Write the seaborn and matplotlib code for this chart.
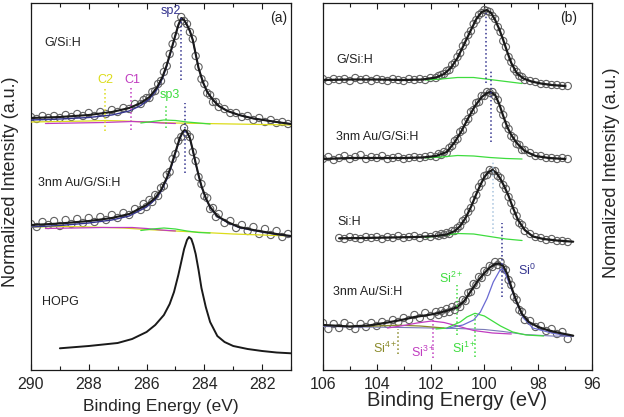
import matplotlib
matplotlib.use("Agg")
import matplotlib.pyplot as plt
from matplotlib.ticker import MultipleLocator
import seaborn as sns

sns.set_theme(style="ticks")
plt.rcParams['font.family'] = ['Liberation Sans', 'DejaVu Sans']
plt.rcParams['mathtext.default'] = 'regular'

# ---------------- data (intensities in arbitrary units, stacked) ----------------
# (a) C 1s : measured points
e_a_pts = [290.0, 289.8, 289.6, 289.4, 289.2, 289.0, 288.8, 288.6, 288.4, 288.2,
           288.0, 287.8, 287.6, 287.4, 287.2, 287.0, 286.8, 286.6, 286.4, 286.2,
           286.1, 286.0, 285.9, 285.8, 285.7, 285.6, 285.5, 285.4, 285.3, 285.2,
           285.1, 285.0, 284.9, 284.8, 284.7, 284.6, 284.5, 284.4, 284.3, 284.2,
           284.1, 284.0, 283.9, 283.8, 283.7, 283.6, 283.5,
           283.3, 283.1, 282.9, 282.7, 282.5, 282.3, 282.1, 281.9, 281.7, 281.5, 281.3, 281.1]
i_a_gsi_pts = [253, 251, 254, 252, 254, 252, 255, 253, 256, 254,
               257, 254, 258, 256, 260, 258, 262, 261, 266, 266,
               270, 272, 272, 278, 279, 286, 289, 298, 304, 316,
               326, 334, 346, 353, 349, 346, 338, 331, 314, 303,
               291, 286, 277, 275, 268, 268, 263,
               261, 257, 257, 253, 254, 250, 252, 248, 250, 247, 248, 246]
i_a_au_pts = [146, 143, 148, 145, 149, 144, 150, 146, 151, 147,
              152, 148, 153, 150, 155, 152, 157, 155, 161, 160,
              166, 163, 170, 168, 175, 174, 182, 184, 195, 198,
              211, 216, 229, 233, 242, 236, 233, 218, 209, 193,
              186, 174, 172, 161, 162, 153, 156,
              147, 149, 142, 145, 139, 143, 136, 141, 135, 139, 133, 136]

# (a) fitted envelopes
e_a_gsi_fit = [290, 289, 288, 287.2, 286.6, 286.2, 285.9, 285.65, 285.45, 285.3,
               285.15, 285.0, 284.9, 284.8, 284.7, 284.6, 284.5, 284.4, 284.3, 284.2,
               284.05, 283.9, 283.7, 283.5, 283.2, 282.8, 282.3, 281.5, 281.0]
i_a_gsi_fit = [252, 253, 255, 258, 262, 267, 273, 282, 293, 305,
               320, 335, 345, 352, 350, 345, 339, 330, 316, 302,
               288, 278, 270, 264, 259, 255, 251.5, 248, 246]
i_a_gsi_sp2 = [250, 251, 252.5, 255, 259, 264.5, 271, 280, 291.5, 304,
               319, 334.5, 344.5, 351.5, 350, 345, 339, 330, 316, 302,
               288, 278, 270, 264, 259, 255, 251.5, 248, 246]

e_a_au_fit = [290, 289, 288, 287.2, 286.6, 286.0, 285.7, 285.5, 285.3, 285.15,
              285.0, 284.85, 284.75, 284.68, 284.6, 284.5, 284.4, 284.3, 284.2, 284.1,
              283.95, 283.8, 283.55, 283.2, 282.8, 282.3, 281.5, 281.0]
i_a_au_fit = [145, 146.5, 149, 152, 156, 165, 172, 180, 192, 204,
              218, 232, 238, 240, 238, 232, 220, 207, 195, 184,
              172, 163, 154, 148, 143, 140, 136, 134]
i_a_au_sp2 = [143, 144.5, 147, 150, 154, 163, 170.5, 178.5, 190.5, 202.5,
              217, 231, 237.5, 239.5, 237.5, 231.5, 219.5, 206.5, 194.5, 183.5,
              171.5, 162.5, 153.5, 147.5, 142.5, 139.5, 135.5, 133.5]

e_hopg = [289.0, 288.0, 287.0, 286.5, 286.0, 285.7, 285.4, 285.2, 285.05, 284.9,
          284.8, 284.7, 284.6, 284.53, 284.45, 284.38, 284.3, 284.2, 284.1, 283.95,
          283.8, 283.55, 283.3, 283.0, 282.5, 282.0, 281.5, 281.0]
i_hopg = [21.7, 24, 27, 31, 38, 45, 55, 66, 78, 95,
          108, 121, 130, 133, 131, 125, 116, 100, 82, 63,
          48, 34, 28, 24, 21, 19, 17.5, 16.7]

# (a) small components: C2, C1, sp3
e_a_c2 = [290, 289, 288, 287.4, 286.8, 286, 285, 284, 283, 282, 281]
i_a_gsi_c2 = [248, 248.5, 249, 249.5, 249, 248, 247, 246.5, 246, 245.5, 245]
i_a_au_c2 = [143, 143.5, 143, 142.5, 142, 140.5, 139, 137.5, 136, 135, 134]
e_a_c1 = [289.5, 288.5, 287.5, 287, 286.5, 286, 285.5, 285]
i_a_gsi_c1 = [246.5, 247, 247.5, 248, 248.5, 248, 247, 246.5]
i_a_au_c1 = [141.5, 142, 142.5, 142.5, 142.5, 141.5, 140, 139]
e_a_sp3 = [286.2, 285.8, 285.4, 285.0, 284.6, 284.2, 283.8]
i_a_gsi_sp3 = [247, 248.5, 250, 249.5, 248, 247, 246]
i_a_au_sp3 = [139.5, 141, 142, 141, 139, 137.5, 137]

# (b) Si 2p : measured points
e_b_pts = [106.0, 105.8, 105.6, 105.4, 105.2, 105.0, 104.8, 104.6, 104.4, 104.2,
           104.0, 103.8, 103.6, 103.4, 103.2, 103.0, 102.8, 102.6, 102.4, 102.2,
           102.0, 101.8,
           101.7, 101.6, 101.5, 101.4, 101.3, 101.2, 101.1, 101.0, 100.9, 100.8,
           100.7, 100.6, 100.5, 100.4, 100.3, 100.2, 100.1, 100.0, 99.9, 99.8,
           99.7, 99.6, 99.5, 99.4, 99.3, 99.2, 99.1, 99.0, 98.9, 98.8,
           98.7, 98.6, 98.5,
           98.3, 98.1, 97.9, 97.7, 97.5, 97.3, 97.1, 96.9]
i_b_gsi_pts = [291, 289, 291, 290, 291, 289, 292, 290, 291, 289,
               291, 290, 289, 291, 290, 289, 291, 290, 291, 290,
               292, 292,
               294, 295, 296, 299, 300, 305, 307, 313, 317, 324,
               328, 335, 339, 346, 350, 355, 357, 360, 359, 358,
               354, 351, 343, 338, 329, 323, 313, 308, 301, 298,
               294, 293, 290,
               289, 288, 286, 286, 285, 285, 284, 284]
i_b_aug_pts = [211, 213, 210, 212, 214, 211, 213, 215, 211, 213,
               212, 214, 211, 212, 213, 211, 212, 213, 212, 213,
               214, 213,
               216, 215, 218, 217, 222, 224, 229, 231, 238, 240,
               248, 251, 258, 260, 267, 268, 274, 274, 278, 277,
               278, 274, 270, 261, 255, 245, 241, 234, 232, 226,
               225, 220, 220,
               217, 214, 214, 212, 212, 211, 212, 211]
i_b_sih_pts = [132, 131, 133, 132, 131, 133, 132, 133, 131, 133,
               132, 134, 132, 133, 134, 132, 134, 133, 135,
               134, 136, 135, 137, 136, 139, 139, 142, 144, 149,
               151, 158, 162, 170, 175, 183, 187, 194, 195, 200,
               199, 199, 194, 192, 185, 181, 173, 167, 159, 154,
               147, 145, 139,
               136, 133, 132, 130, 131, 129, 129, 128]
i_b_ausi_pts = [47, 41, 46, 42, 47, 44, 41, 46, 43, 47,
                44, 48, 46, 50, 48, 52, 50, 55, 52, 57,
                54, 58,
                55, 59, 57, 61, 58, 63, 60, 65, 63, 70,
                69, 77, 78, 86, 85, 93, 92, 99, 98, 104,
                103, 108, 105, 108, 102, 100, 90, 85, 73, 70,
                60, 58, 50,
                49, 43, 44, 39, 41, 36, 38, 31]

# (b) fitted envelopes
e_b_gsi_fit = [106, 105, 104, 103, 102.3, 101.8, 101.5, 101.25, 101.0, 100.75,
               100.5, 100.3, 100.1, 99.92, 99.75, 99.6, 99.45, 99.3, 99.15, 99.0,
               98.8, 98.55, 98.25, 97.9, 97.5, 97.0]
i_b_gsi_fit = [290, 290.5, 290.5, 290, 290.5, 292.5, 296, 302, 312, 326,
               340, 351, 358, 360, 357, 350, 341, 330, 318, 307,
               297, 291.5, 288.5, 286.5, 285, 284]
e_b_aug_fit = [106, 105, 104, 103, 102.3, 101.8, 101.4, 101.1, 100.85, 100.6,
               100.35, 100.1, 99.9, 99.77, 99.6, 99.45, 99.3, 99.15, 99.0, 98.8,
               98.5, 98.1, 97.6, 97.0]
i_b_aug_fit = [211, 212, 212, 212, 212.5, 214, 218, 228, 239, 252,
               264, 273, 277, 278, 275, 266, 254, 243, 235, 227,
               219, 214, 212, 211]
e_b_sih_fit = [105.4, 104.5, 103.5, 102.5, 101.8, 101.4, 101.1, 100.9, 100.7, 100.5,
               100.3, 100.15, 100.0, 99.85, 99.7, 99.55, 99.4, 99.25, 99.1, 98.95,
               98.75, 98.5, 98.2, 97.8, 97.3, 96.7]
i_b_sih_fit = [131.7, 132, 132.5, 133, 134, 135.5, 139, 144, 152, 163,
               176, 185, 193, 198, 200, 197, 191, 183, 174, 163,
               150, 140, 133.5, 131, 129.5, 128.3]
e_b_ausi_fit = [106.0, 105.0, 104.3, 103.6, 103.0, 102.6, 102.1, 101.7, 101.3, 101.0,
                100.75, 100.5, 100.25, 100.0, 99.8, 99.6, 99.45, 99.3, 99.15, 99.0,
                98.8, 98.6, 98.35, 98.0, 97.6, 97.2, 96.7]
i_b_ausi_fit = [45, 43.5, 44.5, 47.5, 50.5, 53, 55, 57, 60, 63,
                69, 79, 89, 97, 102.5, 106, 106.5, 104, 96, 83,
                68, 56, 48, 43, 39.5, 37, 34.3]

# (b) components
e_b_sub = [102.2, 101.6, 101.0, 100.4, 99.8, 99.2, 98.6]
i_b_gsi_sub = [290, 291, 292.5, 292.5, 290.5, 288.5, 286.5]
i_b_aug_sub = [212, 213, 214.5, 214, 212.5, 211.5, 211]
i_b_sih_sub = [132.5, 134.5, 136.5, 136, 133.5, 131, 129.5]
e_bg = [106, 103, 101, 100, 99.3, 98.5, 97.5, 96.7]
i_bg_ausi = [43.5, 42.5, 41.5, 40.5, 38.5, 35.5, 34, 33.5]
e_si0 = [101.4, 100.8, 100.4, 100.15, 99.9, 99.67, 99.42, 99.3, 99.05, 98.8, 98.55, 98.2, 97.45, 96.8]
i_si0 = [41.5, 45, 50, 58, 71.7, 88, 100, 101, 85, 67, 52, 42, 36.7, 34]
e_si1 = [101.8, 101.4, 100.9, 100.65, 100.35, 100.0, 99.7, 99.4, 98.95, 98.45, 97.8]
i_si1 = [41, 42, 48, 53, 56.7, 54, 49, 44, 38, 35, 34]
e_si3 = [103.6, 103.0, 102.5, 101.96, 101.5, 101.0, 100.4, 99.7, 99.0]
i_si3 = [42, 44.5, 47, 49, 47.5, 44, 39.5, 37, 36]
e_si4 = [105.0, 104.0, 103.2, 102.4, 101.5]
i_si4 = [43.5, 44, 44.8, 44, 42]

# peak position markers: energy, lower, upper
mk_a_e = [284.81, 284.68, 287.43, 286.53, 285.34]
mk_a_lo = [290, 197, 239, 240, 242]
mk_a_hi = [352, 267, 283, 283, 265]
mk_b_e = [99.94, 99.77, 99.67, 99.36, 101.03, 100.35, 101.90, 103.20]
mk_b_lo = [287, 228, 137, 73, 35, 13, 12, 16]
mk_b_hi = [357, 300, 210, 147, 85, 57, 52, 41]

NAVY = '#34348f'
YEL = '#dcdc1a'
MAG = '#c03cc0'
GRN = '#3edc3e'
OLV = '#8a8a2a'
LBLUE = '#a8c4de'

fig = plt.figure(figsize=(6.24, 4.17), dpi=100)
ax_a = fig.add_axes([31 / 624, 47 / 417, 260 / 624, 367 / 417])
ax_b = fig.add_axes([323 / 624, 47 / 417, 269 / 624, 367 / 417])


def line(ax, x, y, color, lw=1.0, z=3, ls='-'):
    sns.lineplot(x=x, y=y, ax=ax, color=color, lw=lw, estimator=None,
                 sort=False, zorder=z, linestyle=ls, legend=False)


def pts(ax, x, y):
    sns.scatterplot(x=x, y=y, ax=ax, s=27, marker='o', facecolor='none',
                    edgecolor='0.38', linewidth=0.8, zorder=2, legend=False)


# ---- panel (a) ----
pts(ax_a, e_a_pts, i_a_gsi_pts)
pts(ax_a, e_a_pts, i_a_au_pts)
for c2, c1, s3 in [(i_a_gsi_c2, i_a_gsi_c1, i_a_gsi_sp3), (i_a_au_c2, i_a_au_c1, i_a_au_sp3)]:
    line(ax_a, e_a_c2, c2, YEL, 0.9)
    line(ax_a, e_a_c1, c1, MAG, 0.9)
    line(ax_a, e_a_sp3, s3, GRN, 0.9)
line(ax_a, e_a_gsi_fit, i_a_gsi_sp2, NAVY, 1.0)
line(ax_a, e_a_au_fit, i_a_au_sp2, NAVY, 1.0)
line(ax_a, e_a_gsi_fit, i_a_gsi_fit, 'k', 1.5, 4)
line(ax_a, e_a_au_fit, i_a_au_fit, 'k', 1.5, 4)
line(ax_a, e_hopg, i_hopg, 'k', 1.4, 4)
ax_a.vlines(mk_a_e, mk_a_lo, mk_a_hi, colors=[NAVY, NAVY, YEL, MAG, GRN],
            linestyles=':', lw=1.1, zorder=5)

# ---- panel (b) ----
pts(ax_b, e_b_pts, i_b_gsi_pts)
pts(ax_b, e_b_pts, i_b_aug_pts)
pts(ax_b, e_b_pts[3:], i_b_sih_pts)
pts(ax_b, e_b_pts, i_b_ausi_pts)
line(ax_b, e_b_sub, i_b_gsi_sub, GRN, 0.9)
line(ax_b, e_b_sub, i_b_aug_sub, GRN, 0.9)
line(ax_b, e_b_sub, i_b_sih_sub, GRN, 0.9)
line(ax_b, e_bg, i_bg_ausi, '#7a7ab8', 0.8)
line(ax_b, e_si4, i_si4, OLV, 0.9)
line(ax_b, e_si3, i_si3, MAG, 0.9)
line(ax_b, e_si1, i_si1, GRN, 0.9)
line(ax_b, e_si0, i_si0, '#6a6ad2', 0.9)
for ef, yf in [(e_b_gsi_fit, i_b_gsi_fit), (e_b_aug_fit, i_b_aug_fit),
               (e_b_sih_fit, i_b_sih_fit), (e_b_ausi_fit, i_b_ausi_fit)]:
    line(ax_b, ef, yf, 'k', 1.6, 4)
ax_b.vlines(mk_b_e, mk_b_lo, mk_b_hi,
            colors=[NAVY, NAVY, LBLUE, NAVY, GRN, GRN, MAG, OLV],
            linestyles=':', lw=1.1, zorder=5)

# ---- axes styling ----
for ax, lim in [(ax_a, (290, 281)), (ax_b, (106, 96))]:
    ax.set_xlim(*lim)
    ax.set_ylim(0, 367)
    ax.set_yticks([])
    ax.set_xlabel('')
    ax.set_ylabel('')
    ax.xaxis.set_major_locator(MultipleLocator(2))
    ax.xaxis.set_minor_locator(MultipleLocator(1))
    ax.tick_params(axis='x', which='both', direction='in', top=True, bottom=True,
                   color='k', labelsize=11.5, pad=5)
    ax.tick_params(axis='x', which='major', length=4.5, width=0.8)
    ax.tick_params(axis='x', which='minor', length=3, width=0.8)
    for sp in ax.spines.values():
        sp.set_visible(True)
        sp.set_color('k')
        sp.set_linewidth(0.9)

tk = dict(fontsize=9, color='#222222')
ax_a.text(289.55, 327, 'G/Si:H', ha='left', va='center', **tk)
ax_a.text(289.75, 187, '3nm Au/G/Si:H', ha='left', va='center', **tk)
ax_a.text(289.63, 68, 'HOPG', ha='left', va='center', **tk)
ax_a.text(281.44, 352, '(a)', ha='center', va='center', fontsize=10, color='#222222')
ax_a.text(285.15, 359, 'sp2', ha='center', va='center', fontsize=9, color=NAVY)
ax_a.text(287.43, 290, 'C2', ha='center', va='center', fontsize=9, color=YEL)
ax_a.text(286.5, 290, 'C1', ha='center', va='center', fontsize=9, color=MAG)
ax_a.text(285.2, 275, 'sp3', ha='center', va='center', fontsize=9, color=GRN)

ax_b.text(105.5, 310, 'G/Si:H', ha='left', va='center', **tk)
ax_b.text(105.52, 233, '3nm Au/G/Si:H', ha='left', va='center', **tk)
ax_b.text(105.47, 148, 'Si:H', ha='left', va='center', **tk)
ax_b.text(105.62, 78, '3nm Au/Si:H', ha='left', va='center', **tk)
ax_b.text(96.87, 352, '(b)', ha='center', va='center', fontsize=10, color='#222222')
ax_b.text(98.43, 100, 'Si$^{0}$', ha='center', va='center', fontsize=9, color=NAVY)
ax_b.text(101.22, 92, 'Si$^{2+}$', ha='center', va='center', fontsize=9, color=GRN)
ax_b.text(103.70, 22, 'Si$^{4+}$', ha='center', va='center', fontsize=9, color=OLV)
ax_b.text(102.27, 18, 'Si$^{3+}$', ha='center', va='center', fontsize=9, color=MAG)
ax_b.text(100.76, 22, 'Si$^{1+}$', ha='center', va='center', fontsize=9, color=GRN)

fig.text(161 / 624, 1 - 407 / 417, 'Binding Energy (eV)', ha='center', va='center', fontsize=12.5)
fig.text(457.5 / 624, 1 - 401 / 417, 'Binding Energy (eV)', ha='center', va='center', fontsize=14.5)
fig.text(11 / 624, 1 - 182 / 417, 'Normalized Intensity (a.u.)', rotation=90,
         ha='center', va='center', fontsize=13)
fig.text(611 / 624, 1 - 173 / 417, 'Normalized Intensity (a.u.)', rotation=90,
         ha='center', va='center', fontsize=13)

fig.savefig('out.png', dpi=100)
